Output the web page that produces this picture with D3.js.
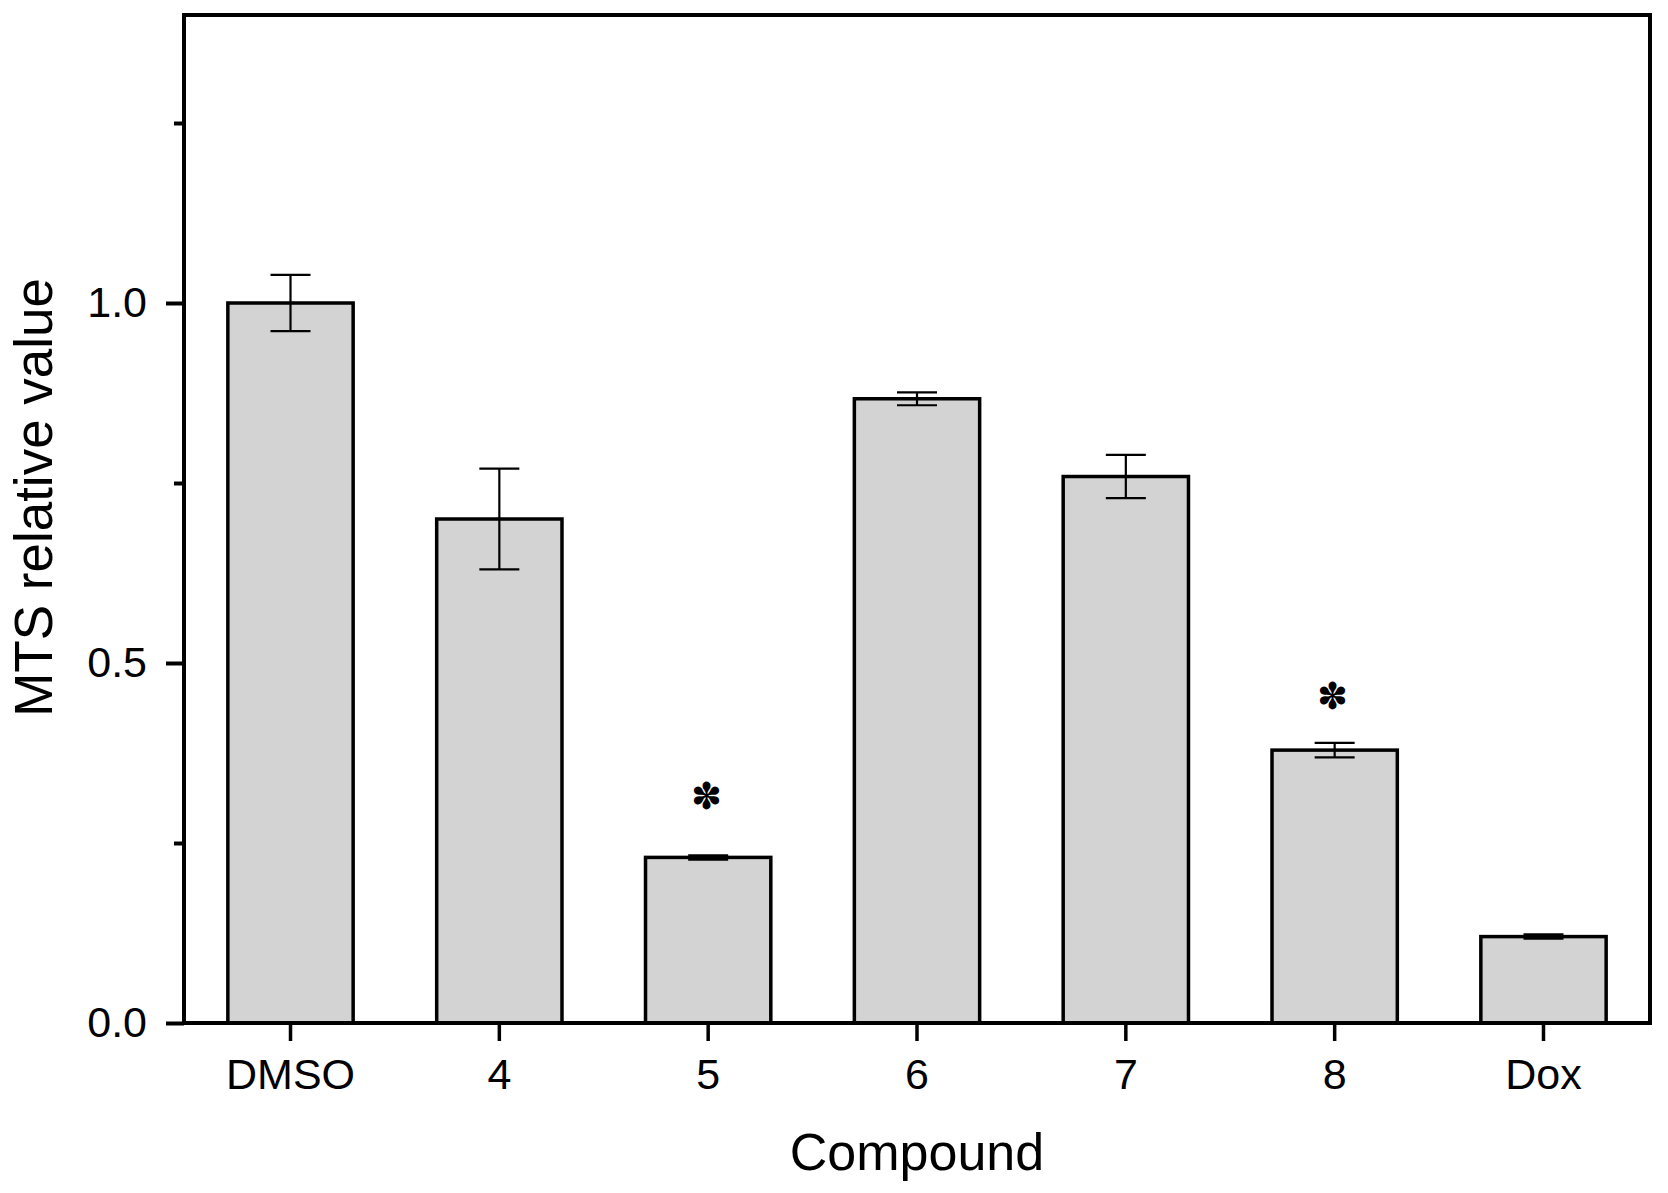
<!DOCTYPE html>
<html>
<head>
<meta charset="utf-8">
<script src="https://cdn.jsdelivr.net/npm/d3@7"></script>
<style>
  body { margin: 0; background: #fff; }
  text { font-family: Arial, "Liberation Sans", sans-serif; fill: #000; }
</style>
</head>
<body>
<div id="chart"></div>
<script>
// MTS assay bar chart, mean +/- error per compound

const compounds = ['DMSO', '4', '5', '6', '7', '8', 'Dox'];
const meanValues = [1.0, 0.70, 0.230, 0.867, 0.759, 0.379, 0.120];
const errValues = [0.039, 0.070, 0.003, 0.009, 0.030, 0.010, 0.003];
// level at which a significance star is drawn (null = none)
const starLevels = [null, null, 0.315, null, null, 0.454, null];
const majorTicks = [0, 0.5, 1.0];
const minorTicks = [0.25, 0.75, 1.25];

const W = 1668, H = 1193;
const margin = { top: 15, right: 18, bottom: 170, left: 184 };
const width = W - margin.left - margin.right;
const height = H - margin.top - margin.bottom;

const svg = d3.select('#chart').append('svg')
    .attr('width', W)
    .attr('height', H);

const g = svg.append('g')
    .attr('transform', `translate(${margin.left},${margin.top})`);

const x = d3.scaleBand()
    .domain(compounds)
    .range([0, width])
    .paddingInner(0.4)
    .paddingOuter(0.21);

const y = d3.scaleLinear()
    .domain([0, 1.4])
    .range([height, 0]);

const data = compounds.map((c, i) => ({
    name: c,
    value: meanValues[i],
    err: errValues[i],
    star: starLevels[i]
}));

// bars
g.selectAll('.bar')
    .data(data)
    .enter().append('rect')
    .attr('class', 'bar')
    .attr('x', d => x(d.name))
    .attr('y', d => y(d.value))
    .attr('width', x.bandwidth())
    .attr('height', d => y(0) - y(d.value))
    .attr('fill', '#d3d3d3')
    .attr('stroke', '#000')
    .attr('stroke-width', 3.5);

// error bars
const capHalf = 20;
const eb = g.selectAll('.err')
    .data(data)
    .enter().append('g')
    .attr('class', 'err')
    .attr('stroke', '#000')
    .attr('stroke-width', 2.2);

eb.append('line')
    .attr('x1', d => x(d.name) + x.bandwidth() / 2)
    .attr('x2', d => x(d.name) + x.bandwidth() / 2)
    .attr('y1', d => y(d.value + d.err))
    .attr('y2', d => y(d.value - d.err));

eb.append('line')
    .attr('x1', d => x(d.name) + x.bandwidth() / 2 - capHalf)
    .attr('x2', d => x(d.name) + x.bandwidth() / 2 + capHalf)
    .attr('y1', d => y(d.value + d.err))
    .attr('y2', d => y(d.value + d.err));

eb.append('line')
    .attr('x1', d => x(d.name) + x.bandwidth() / 2 - capHalf)
    .attr('x2', d => x(d.name) + x.bandwidth() / 2 + capHalf)
    .attr('y1', d => y(d.value - d.err))
    .attr('y2', d => y(d.value - d.err));

// significance stars (six teardrop spokes, as in the original)
g.selectAll('.star')
    .data(data.filter(d => d.star !== null))
    .enter().append('text')
    .attr('class', 'star')
    .attr('x', d => x(d.name) + x.bandwidth() / 2 - 2)
    .attr('y', d => y(d.star))
    .attr('dominant-baseline', 'central')
    .attr('text-anchor', 'middle')
    .attr('font-family', '"DejaVu Sans", sans-serif')
    .attr('font-size', '37px')
    .text('\u273D');

// axes
const xAxis = g.append('g')
    .attr('transform', `translate(0,${height})`)
    .call(d3.axisBottom(x).tickSize(18).tickPadding(17));

const yAxis = g.append('g')
    .call(d3.axisLeft(y).tickValues(majorTicks).tickSize(18).tickPadding(19)
        .tickFormat(d3.format('.1f')));

const yMinor = g.append('g')
    .call(d3.axisLeft(y).tickValues(minorTicks).tickSize(10).tickFormat(''));

[xAxis, yAxis, yMinor].forEach(a => {
    a.select('.domain').remove();
    a.selectAll('line').attr('stroke', '#000').attr('stroke-width', 4);
    a.selectAll('text')
        .attr('font-size', '43px')
        .attr('font-family', 'Arial, "Liberation Sans", sans-serif')
        .attr('fill', '#000');
});
xAxis.selectAll('line').attr('stroke-width', 3.5);

// frame
g.append('rect')
    .attr('x', 0)
    .attr('y', 0)
    .attr('width', width)
    .attr('height', height)
    .attr('fill', 'none')
    .attr('stroke', '#000')
    .attr('stroke-width', 4);

// axis titles
svg.append('text')
    .attr('x', margin.left + width / 2)
    .attr('y', 1170)
    .attr('text-anchor', 'middle')
    .attr('font-size', '52px')
    .text('Compound');

svg.append('text')
    .attr('transform', `translate(52,${margin.top + y(0.73)}) rotate(-90)`)
    .attr('text-anchor', 'middle')
    .attr('font-size', '53px')
    .text('MTS relative value');
</script>
</body>
</html>
